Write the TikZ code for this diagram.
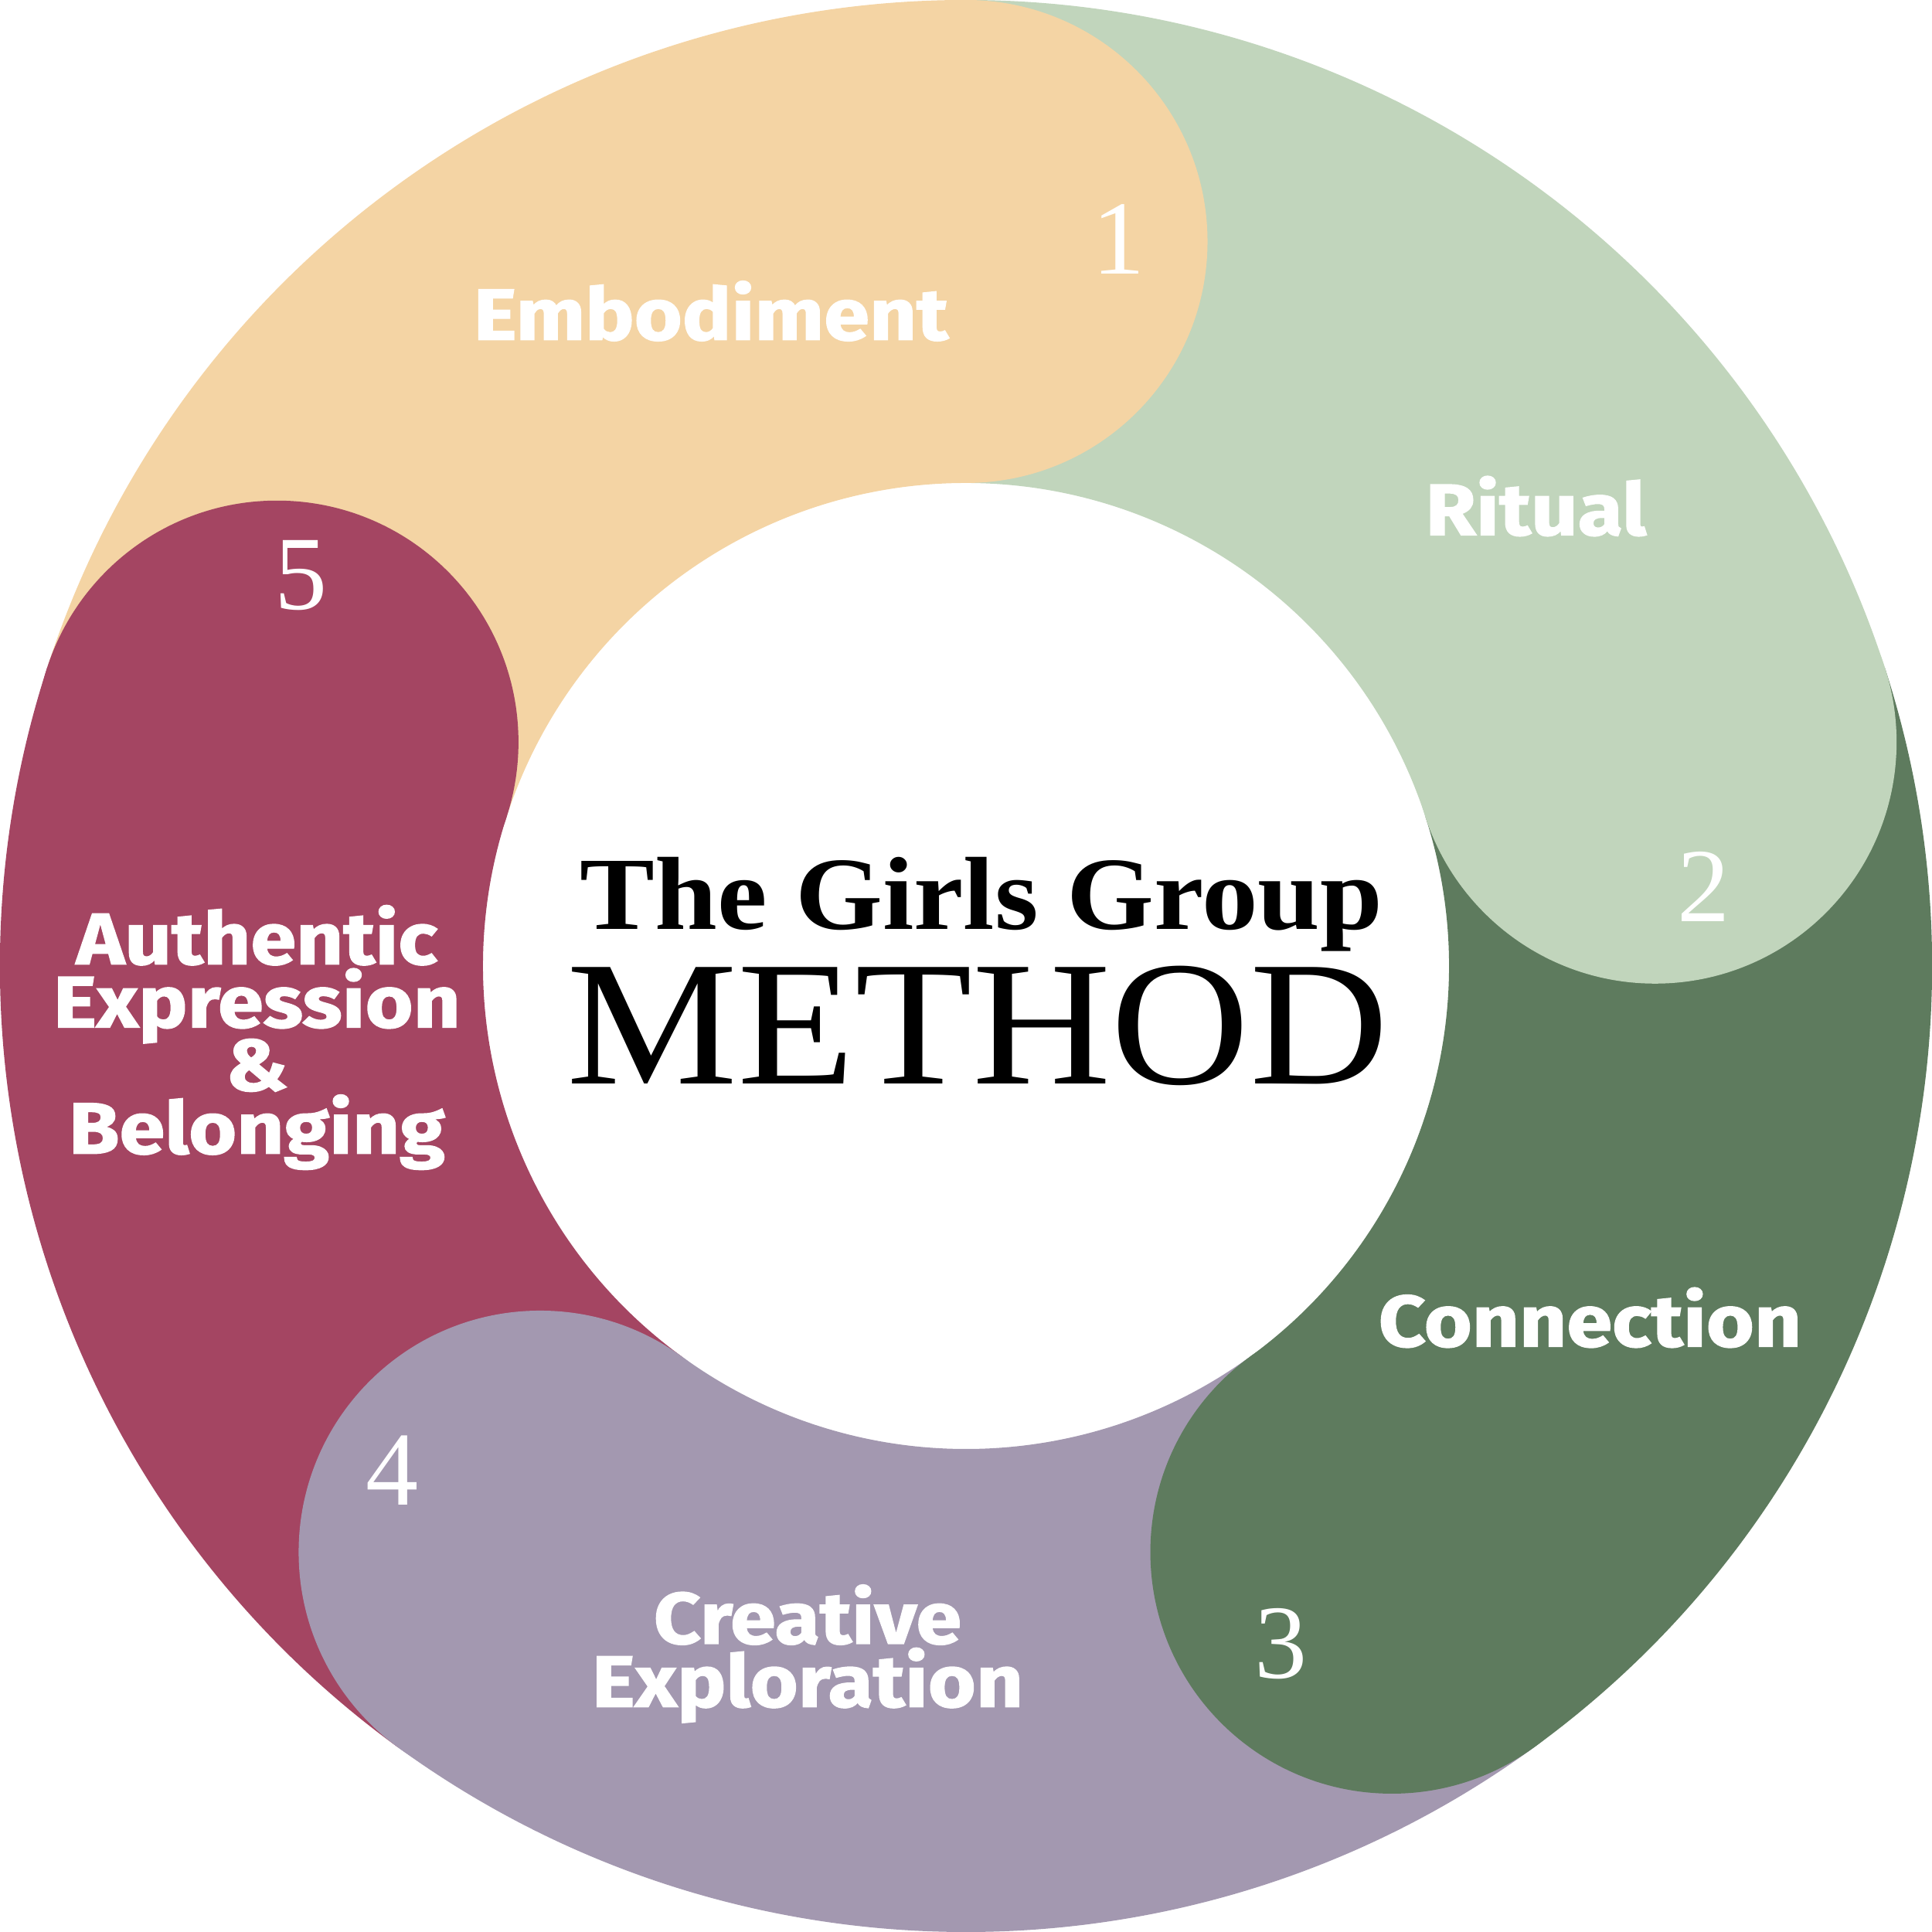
\documentclass[tikz,border=0pt]{standalone}
\usepackage{fontspec}
\setmainfont{Liberation Serif}
\newfontfamily\segfont{Fira Sans}[FakeStretch=1.13,FakeBold=1.5]
\newfontfamily\titlefont{Liberation Serif}[FakeStretch=1.08]
\definecolor{embcol}{HTML}{F4D4A4}
\definecolor{ritcol}{HTML}{C1D5BC}
\definecolor{concol}{HTML}{5E7B5E}
\definecolor{crecol}{HTML}{A398B0}
\definecolor{autcol}{HTML}{A44562}
\tikzset{
  seglabel/.style={text=white,align=center,
    font={\segfont\bfseries\fontsize{10.7}{9.3}\selectfont\lineskiplimit=-10pt}},
  segnum/.style={text=white,font={\fontsize{15.5}{16}\selectfont}}
}
\begin{document}
\begin{tikzpicture}
  \useasboundingbox (-5,-5) rectangle (5,5);
  % ring pieces first, the round ends on top
  \foreach \a/\c in {90/embcol,18/ritcol,-54/concol,-126/crecol,162/autcol}
    \fill[\c] (\a:5) arc[start angle=\a, end angle=\a+72, radius=5]
      -- ({\a+72}:2.5) arc[start angle=\a+72, end angle=\a, radius=2.5] -- cycle;
  \foreach \a/\c in {90/embcol,18/ritcol,-54/concol,-126/crecol,162/autcol}
    \fill[\c] (\a:3.75) circle[radius=1.25];

  \node (title) at (0.08,0.32) {\titlefont\bfseries\fontsize{15.3}{16}\selectfont The Girls Group};
  \node (method) at (0.06,-0.31) {\titlefont\fontsize{26.2}{27}\selectfont METHOD};

  \node[seglabel] (emb) at (-1.32,3.39) {Embodiment};
  \node[seglabel] (rit) at (2.95,2.38) {Ritual};
  \node[seglabel] (con) at (3.23,-1.82) {Connection};
  \node[seglabel] (cre) at (-0.82,-3.56) {Creative\\Exploration};
  \node[seglabel] (aut) at (-3.67,-0.37) {Authentic\\Expression\\\&\\Belonging};

  \node[segnum] (n1) at (0.79,3.76) {1};
  \node[segnum] (n2) at (3.82,0.41) {2};
  \node[segnum] (n3) at (1.63,-3.51) {3};
  \node[segnum] (n4) at (-2.97,-2.61) {4};
  \node[segnum] (n5) at (-3.44,2.02) {5};
\end{tikzpicture}
\end{document}
